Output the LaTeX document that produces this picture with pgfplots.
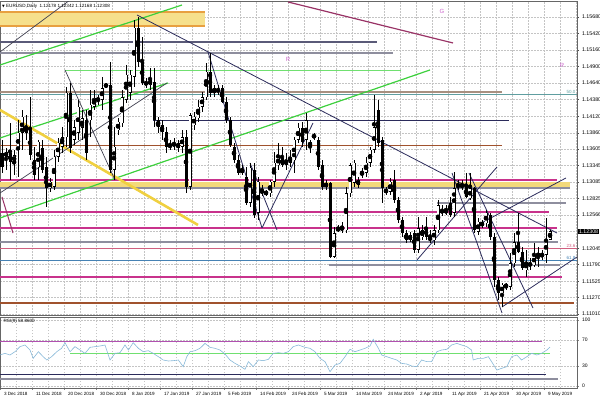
\documentclass[border=0pt]{standalone}
\usepackage{fontspec}
\setmainfont{Liberation Sans}
\newfontfamily\dejavu{DejaVu Sans}
\usepackage{pgfplots}
\usepackage{pgfplotstable}
\pgfplotsset{compat=1.18}
\definecolor{grd}{HTML}{C4C4C4}
\definecolor{navyl}{HTML}{2B2B5B}
\definecolor{dkl}{HTML}{404050}
\definecolor{grn}{HTML}{3CD03C}
\definecolor{lgrn}{HTML}{70E070}
\definecolor{gold}{HTML}{F0D040}
\definecolor{mag}{HTML}{C8328C}
\definecolor{purp}{HTML}{993366}
\definecolor{gry}{HTML}{8E8E9E}
\definecolor{slate}{HTML}{5A5A78}
\definecolor{sienna}{HTML}{A0522D}
\definecolor{tan}{HTML}{A89080}
\definecolor{band}{HTML}{F6E08C}
\definecolor{band2}{HTML}{F3D97A}
\definecolor{orng}{HTML}{E8A040}
\definecolor{teal}{HTML}{5F9EA0}
\definecolor{steel}{HTML}{4682B4}
\definecolor{pinkf}{HTML}{D06080}
\definecolor{viol}{HTML}{CC66CC}
\definecolor{rsiblue}{HTML}{87B8D8}
\definecolor{rsipurp}{HTML}{B050B0}

\pgfplotstableread{
i o h l c
0 1.1354 1.1375 1.1323 1.1332
1 1.1348 1.1362 1.1328 1.1356
2 1.1354 1.1401 1.1312 1.1340
3 1.1340 1.1359 1.1320 1.1351
4 1.1359 1.1406 1.1317 1.1386
5 1.1386 1.1422 1.1359 1.1411
6 1.1386 1.1414 1.1375 1.1395
7 1.1390 1.1442 1.1343 1.1351
8 1.1343 1.1364 1.1312 1.1320
9 1.1332 1.1375 1.1312 1.1372
10 1.1362 1.1375 1.1323 1.1328
11 1.1332 1.1348 1.1269 1.1299
12 1.1299 1.1315 1.1293 1.1309
13 1.1301 1.1359 1.1296 1.1348
14 1.1348 1.1378 1.1340 1.1370
15 1.1364 1.1395 1.1354 1.1379
16 1.1379 1.1458 1.1364 1.1449
17 1.1449 1.1464 1.1354 1.1362
18 1.1375 1.1406 1.1367 1.1395
19 1.1386 1.1438 1.1375 1.1427
20 1.1394 1.1422 1.1375 1.1409
21 1.1406 1.1422 1.1343 1.1354
22 1.1406 1.1453 1.1379 1.1430
23 1.1427 1.1453 1.1422 1.1441
24 1.1436 1.1445 1.1430 1.1441
25 1.1438 1.1474 1.1422 1.1456
26 1.1461 1.1464 1.1456 1.1460
27 1.1461 1.1497 1.1323 1.1328
28 1.1328 1.1395 1.1312 1.1364
29 1.1390 1.1409 1.1383 1.1403
30 1.1401 1.1453 1.1395 1.1442
31 1.1438 1.1493 1.1433 1.1477
32 1.1449 1.1485 1.1438 1.1477
33 1.1474 1.1563 1.1458 1.1551
34 1.1551 1.1568 1.1489 1.1497
35 1.1497 1.1537 1.1461 1.1464
36 1.1461 1.1472 1.1456 1.1466
37 1.1461 1.1488 1.1453 1.1469
38 1.1466 1.1488 1.1395 1.1406
39 1.1406 1.1411 1.1386 1.1395
40 1.1398 1.1406 1.1375 1.1387
41 1.1387 1.1395 1.1354 1.1364
42 1.1364 1.1375 1.1359 1.1367
43 1.1365 1.1378 1.1359 1.1370
44 1.1370 1.1375 1.1356 1.1362
45 1.1364 1.1390 1.1354 1.1379
46 1.1379 1.1390 1.1291 1.1301
47 1.1301 1.1417 1.1296 1.1414
48 1.1398 1.1419 1.1390 1.1411
49 1.1409 1.1438 1.1403 1.1427
50 1.1427 1.1450 1.1419 1.1442
51 1.1442 1.1496 1.1438 1.1482
52 1.1482 1.1511 1.1442 1.1449
53 1.1449 1.1461 1.1442 1.1456
54 1.1450 1.1461 1.1445 1.1455
55 1.1456 1.1461 1.1433 1.1434
56 1.1434 1.1442 1.1401 1.1406
57 1.1406 1.1411 1.1364 1.1367
58 1.1364 1.1370 1.1339 1.1343
59 1.1343 1.1351 1.1320 1.1323
60 1.1323 1.1335 1.1320 1.1329
61 1.1317 1.1332 1.1272 1.1276
62 1.1276 1.1339 1.1269 1.1331
63 1.1328 1.1339 1.1252 1.1257
64 1.1260 1.1317 1.1249 1.1309
65 1.1296 1.1304 1.1287 1.1291
66 1.1293 1.1296 1.1287 1.1290
67 1.1291 1.1312 1.1285 1.1309
68 1.1309 1.1356 1.1301 1.1339
69 1.1335 1.1370 1.1328 1.1348
70 1.1346 1.1364 1.1332 1.1335
71 1.1343 1.1354 1.1328 1.1335
72 1.1339 1.1359 1.1332 1.1348
73 1.1343 1.1379 1.1323 1.1375
74 1.1375 1.1401 1.1370 1.1394
75 1.1394 1.1403 1.1364 1.1372
76 1.1375 1.1417 1.1359 1.1406
77 1.1372 1.1375 1.1354 1.1364
78 1.1383 1.1386 1.1375 1.1378
79 1.1375 1.1379 1.1328 1.1332
80 1.1335 1.1343 1.1296 1.1301
81 1.1301 1.1312 1.1296 1.1307
82 1.1307 1.1309 1.1189 1.1191
83 1.1191 1.1238 1.1189 1.1228
84 1.1233 1.1241 1.1230 1.1236
85 1.1233 1.1246 1.1228 1.1238
86 1.1233 1.1301 1.1228 1.1291
87 1.1291 1.1339 1.1285 1.1335
88 1.1307 1.1343 1.1301 1.1339
89 1.1304 1.1317 1.1299 1.1312
90 1.1320 1.1331 1.1315 1.1324
91 1.1323 1.1348 1.1317 1.1339
92 1.1339 1.1364 1.1332 1.1359
93 1.1359 1.1445 1.1354 1.1395
94 1.1422 1.1438 1.1364 1.1370
95 1.1375 1.1379 1.1276 1.1299
96 1.1293 1.1301 1.1288 1.1296
97 1.1293 1.1315 1.1288 1.1309
98 1.1312 1.1328 1.1276 1.1280
99 1.1280 1.1285 1.1244 1.1249
100 1.1249 1.1254 1.1222 1.1228
101 1.1228 1.1233 1.1213 1.1217
102 1.1217 1.1230 1.1214 1.1225
103 1.1228 1.1233 1.1197 1.1202
104 1.1202 1.1254 1.1197 1.1236
105 1.1222 1.1241 1.1217 1.1233
106 1.1236 1.1254 1.1217 1.1222
107 1.1222 1.1233 1.1213 1.1217
108 1.1217 1.1241 1.1210 1.1233
109 1.1233 1.1280 1.1228 1.1272
110 1.1260 1.1272 1.1255 1.1265
111 1.1260 1.1272 1.1257 1.1265
112 1.1276 1.1285 1.1254 1.1257
113 1.1260 1.1324 1.1254 1.1299
114 1.1304 1.1312 1.1296 1.1301
115 1.1304 1.1312 1.1296 1.1301
116 1.1301 1.1323 1.1283 1.1285
117 1.1283 1.1323 1.1280 1.1299
118 1.1299 1.1301 1.1228 1.1233
119 1.1230 1.1252 1.1225 1.1246
120 1.1244 1.1249 1.1236 1.1241
121 1.1244 1.1265 1.1238 1.1260
122 1.1257 1.1260 1.1217 1.1222
123 1.1222 1.1228 1.1144 1.1155
124 1.1155 1.1159 1.1123 1.1134
125 1.1134 1.1150 1.1112 1.1147
126 1.1144 1.1150 1.1139 1.1147
127 1.1144 1.1197 1.1139 1.1181
128 1.1181 1.1228 1.1175 1.1214
129 1.1214 1.1260 1.1197 1.1199
130 1.1199 1.1206 1.1170 1.1173
131 1.1170 1.1202 1.1159 1.1183
132 1.1177 1.1189 1.1170 1.1181
133 1.1178 1.1213 1.1175 1.1194
134 1.1191 1.1206 1.1175 1.1197
135 1.1192 1.1202 1.1186 1.1195
136 1.1194 1.1252 1.1181 1.1218
137 1.1218 1.1234 1.1217 1.1231
}\candles

\begin{document}
\begin{tikzpicture}
\useasboundingbox (0pt,0pt) rectangle (600pt,-400pt);
\begin{axis}[
  at={(0pt,-1pt)}, anchor=north west,
  scale only axis, width=577pt, height=314.5pt,
  xmin=-0.5, xmax=143.75, ymin=1.10987, ymax=1.15931,
  axis line style={draw=black!60, line width=0.5pt},
  xtick={-0.5,3.5,...,143.5}, xticklabels={}, xtick style={draw=none},
  ytick={1.15680,1.15420,1.15160,1.14900,1.14640,1.14380,1.14120,1.13860,1.13605,1.13345,1.13085,1.12825,1.12566,1.12305,1.12045,1.11790,1.11525,1.11270,1.11010},
  yticklabels={1.15680,1.15420,1.15160,1.14900,1.14640,1.14380,1.14120,1.13860,1.13605,1.13345,1.13085,1.12825,1.12566,{},1.12045,1.11790,1.11525,1.11270,1.11010},
  yticklabel pos=right, ytick pos=right,
  tick align=outside, major tick length=2pt,
  ytick style={draw=black!70, line width=0.4pt},
  yticklabel style={font=\fontsize{5.3}{6}\selectfont, anchor=west, xshift=-0.5pt},
  grid=major, major grid style={draw=grd, dash pattern=on 1.5pt off 1.5pt, line width=0.4pt},
  clip=true,
]
% bands
\addplot[fill=band, draw=none, forget plot] coordinates {(-0.5,1.15758) (50.75,1.15758) (50.75,1.15538) (-0.5,1.15538)} -- cycle;
\addplot[orng, line width=1.5pt] coordinates {(-0.5,1.15758) (50.75,1.15758)};
\addplot[orng, line width=1.5pt] coordinates {(-0.5,1.15538) (50.75,1.15538)};
\addplot[fill=band2, draw=none, forget plot] coordinates {(-0.5,1.13086) (142,1.13086) (142,1.12992) (-0.5,1.12992)} -- cycle;
% horizontal levels
\addplot[slate, line width=1.1pt] coordinates {(-0.5,1.15287) (93.75,1.15287)};
\addplot[gry, line width=2pt] coordinates {(-0.5,1.15114) (97.75,1.15114)};
\addplot[lgrn, line width=1.3pt] coordinates {(15.75,1.14836) (99.75,1.14836)};
\addplot[tan, line width=2pt] coordinates {(-0.5,1.14501) (125,1.14501)};
\addplot[teal, line width=0.6pt] coordinates {(-0.5,1.14469) (143.75,1.14469)};
\addplot[navyl, line width=0.9pt] coordinates {(37.75,1.14061) (126.75,1.14061)};
\addplot[sienna, line width=1pt] coordinates {(-0.5,1.13652) (125,1.13652)};
\addplot[mag, line width=1.3pt] coordinates {(-0.5,1.13117) (138.75,1.13117)};
\addplot[gry, line width=2pt] coordinates {(-0.5,1.12992) (142,1.12992)};
\addplot[gry, line width=2pt] coordinates {(108.75,1.12756) (141,1.12756)};
\addplot[mag, line width=1.3pt] coordinates {(-0.5,1.12614) (136.75,1.12614)};
\addplot[mag, line width=1.3pt] coordinates {(-0.5,1.12363) (138.75,1.12363)};
\addplot[gry, line width=2pt] coordinates {(-0.5,1.12143) (139,1.12143)};
\addplot[pinkf, line width=0.6pt] coordinates {(-0.5,1.12049) (143.75,1.12049)};
\addplot[steel, line width=0.6pt] coordinates {(-0.5,1.11860) (143.75,1.11860)};
\addplot[gry, line width=1.6pt] coordinates {(81.75,1.11781) (139.5,1.11781)};
\addplot[mag, line width=1.3pt] coordinates {(-0.5,1.11593) (140,1.11593)};
\addplot[sienna, line width=1.3pt] coordinates {(-0.5,1.11184) (143,1.11184)};
% diagonal trend lines
\addplot[dkl, line width=0.7pt] coordinates {(-0.5,1.15130) (17,1.15947)};
\addplot[grn, line width=1.2pt] coordinates {(-0.5,1.14925) (45,1.15868)};
\addplot[grn, line width=1.2pt] coordinates {(-0.5,1.13778) (41.5,1.14642)};
\addplot[grn, line width=1.2pt] coordinates {(-0.5,1.12520) (107,1.14847)};
\addplot[gold, line width=2.6pt] coordinates {(-0.5,1.14218) (49,1.12410)};
\addplot[dkl, line width=0.7pt] coordinates {(-0.5,1.12913) (41.25,1.14642)};
\addplot[dkl, line width=0.7pt] coordinates {(15.75,1.14847) (28.25,1.13117)};
\addplot[navyl, line width=0.8pt] coordinates {(33.75,1.15711) (138.75,1.12284)};
\addplot[navyl, line width=0.8pt] coordinates {(51.5,1.15130) (65,1.12363)};
\addplot[navyl, line width=0.8pt] coordinates {(62,1.13385) (68.75,1.12331)};
\addplot[navyl, line width=0.8pt] coordinates {(65,1.12363) (77.75,1.14013)};
\addplot[navyl, line width=0.8pt] coordinates {(103.75,1.11860) (123.75,1.13322)};
\addplot[navyl, line width=0.8pt] coordinates {(112.5,1.13227) (125,1.11027)};
\addplot[navyl, line width=0.8pt] coordinates {(116.75,1.13227) (132.75,1.11105)};
\addplot[navyl, line width=0.8pt] coordinates {(117.5,1.12363) (141,1.13149)};
\addplot[navyl, line width=0.8pt] coordinates {(125,1.11121) (143.75,1.11907)};
\addplot[purp, line width=1.2pt] coordinates {(71.5,1.15916) (112.75,1.15271)};
\addplot[purp, line width=1pt] coordinates {(0,1.12850) (2.75,1.12284)};
% candles: wicks
\addplot[only marks, mark=none, forget plot,
  error bars/.cd, y dir=both, y explicit, error mark=none,
  error bar style={draw=black, line width=0.7pt}]
  table[x=i, y expr={(\thisrow{h}+\thisrow{l})/2}, y error expr={(\thisrow{h}-\thisrow{l})/2}] {\candles};
% bodies
\addplot[only marks, mark=none, forget plot,
  error bars/.cd, y dir=both, y explicit, error mark=none,
  error bar style={draw=black, line width=3pt}]
  table[x=i, y expr={(\thisrow{o}+\thisrow{c})/2}, y error expr={max(abs(\thisrow{o}-\thisrow{c})/2,0.00005)}] {\candles};
\addplot[only marks, mark=none, forget plot,
  error bars/.cd, y dir=both, y explicit, error mark=none,
  error bar style={draw=white, line width=1.9pt}]
  table[x=i, y expr={(\thisrow{o}+\thisrow{c})/2}, y error expr={max((\thisrow{c}-\thisrow{o})/2-0.00008,0)}] {\candles};
% labels in chart
\node[font=\fontsize{4.5}{5}\selectfont, text=teal, anchor=south east, inner sep=0.5pt] at (axis cs:143.5,1.14469) {50.0};
\node[font=\fontsize{4.5}{5}\selectfont, text=pinkf, anchor=south east, inner sep=0.5pt] at (axis cs:143.5,1.12049) {23.6};
\node[font=\fontsize{4.5}{5}\selectfont, text=steel, anchor=south east, inner sep=0.5pt] at (axis cs:143.5,1.11860) {61.8};
\node[font=\fontsize{6}{7}\selectfont, text=viol] at (axis cs:110,1.15774) {G};
\node[font=\fontsize{6}{7}\selectfont, text=viol] at (axis cs:71.5,1.15020) {R};
\node[font=\fontsize{6}{7}\selectfont, text=viol] at (axis cs:140,1.14925) {R};
\coordinate (cp) at (axis cs:143.75,1.12308);
\end{axis}
\node[fill=black, text=white, anchor=west, inner sep=0.8pt, font=\fontsize{5.3}{6}\selectfont] at ([xshift=1pt]cp) {1.12308};
\node[anchor=west, inner sep=0pt, font=\fontsize{4.6}{5}\selectfont] at (2pt,-6pt) {{\dejavu\fontsize{3.5}{4}\selectfont ▼}\ EURUSD,Daily\ \ 1.12178 1.12342 1.12168 1.12308};

\begin{axis}[
  at={(0pt,-317pt)}, anchor=north west,
  scale only axis, width=577pt, height=71pt,
  xmin=-0.5, xmax=143.75, ymin=-3, ymax=104.5,
  axis line style={draw=black!60, line width=0.5pt},
  xtick={-0.5,7.5,...,135.5},
  xticklabels={3 Dec 2018,11 Dec 2018,20 Dec 2018,30 Dec 2018,8 Jan 2019,17 Jan 2019,27 Jan 2019,5 Feb 2019,14 Feb 2019,24 Feb 2019,5 Mar 2019,14 Mar 2019,24 Mar 2019,2 Apr 2019,11 Apr 2019,21 Apr 2019,30 Apr 2019,9 May 2019},
  minor xtick={3.5,11.5,...,139.5},
  xticklabel style={font=\fontsize{4.6}{5}\selectfont, anchor=north west, xshift=0.5pt, yshift=0.5pt},
  xtick pos=bottom, tick align=outside, major tick length=1.5pt, minor tick length=0pt,
  ytick={0,30,70,100}, yticklabels={0,30,70,100},
  yticklabel pos=right, ytick pos=right,
  yticklabel style={font=\fontsize{5}{6}\selectfont, anchor=west},
  grid=both, major grid style={draw=grd, dash pattern=on 1.5pt off 1.5pt, line width=0.4pt},
  minor grid style={draw=grd, dash pattern=on 1.5pt off 1.5pt, line width=0.4pt},
  clip=true,
]
\addplot[rsipurp, line width=1.4pt] coordinates {(-0.5,67.1) (135,67.1)};
\addplot[lgrn, line width=1.5pt] coordinates {(17,49.5) (137,49.5)};
\addplot[navyl, line width=0.9pt] coordinates {(-0.5,17.7) (136,17.7)};
\addplot[gry, line width=1.8pt] coordinates {(-0.5,10.6) (139,10.6)};
\addplot[rsiblue, line width=0.6pt] coordinates {
(-0.5,47.0)(0.75,49.5)(2,47.0)(3.25,52.0)(4.5,59.6)(5.75,62.1)(7,54.5)(7.8,41.9)(9.1,52.0)(10.3,44.4)(11.2,39.4)(12.4,44.4)(13.7,52.0)(14.9,57.1)(15.75,65.6)(17,52.0)(18.25,59.6)(19.5,54.5)(20.75,49.5)(22,58.6)(23.25,59.6)(24.5,60.6)(25.75,62.1)(27,39.4)(28.25,49.5)(29.5,50.5)(30.75,62.1)(31.6,54.5)(32.8,65.6)(34.1,57.1)(35.3,52.0)(36.6,53.5)(37.8,49.5)(39.1,44.4)(40.3,39.4)(41.6,37.9)(42.8,38.4)(44.1,39.4)(45.3,29.3)(46.2,44.4)(47,52.0)(48.25,53.5)(49.5,57.1)(50.75,64.6)(52,58.6)(53.25,57.1)(54.5,54.5)(55.75,48.5)(57,39.4)(58.25,34.3)(59.5,30.3)(60.75,25.3)(61.6,36.9)(62.8,29.3)(64.1,39.4)(65.3,38.4)(66.6,40.4)(67.8,49.5)(69.1,50.5)(70.3,49.5)(71.6,52.0)(72.8,59.6)(74.1,62.1)(75.75,58.6)(77,57.1)(78.25,52.0)(79.5,41.9)(80.75,36.9)(82,21.7)(83.25,31.8)(84.5,34.3)(85.75,44.4)(87,55.6)(88.25,52.0)(89.5,54.5)(90.75,57.1)(92,60.6)(92.8,70.7)(94.1,57.1)(94.9,47.0)(96.2,44.4)(97.4,41.9)(98.7,39.4)(99.9,34.3)(101.2,33.3)(102.4,30.3)(103.7,29.3)(104.9,39.4)(106.2,36.9)(107.4,36.9)(108.7,52.0)(109.9,54.5)(111.2,55.6)(112.4,62.1)(113.7,64.6)(114.9,62.1)(116.2,59.6)(117.4,54.5)(117.8,39.4)(119.1,41.9)(120.3,41.9)(121.6,44.4)(122.4,36.9)(123.7,24.2)(124.9,26.8)(126.2,29.3)(127.4,44.4)(128.7,47.0)(129.9,39.4)(131.2,44.4)(132.4,49.5)(133.7,47.0)(134.9,49.5)(136.2,54.5)(137,58.9)};
\node[font=\fontsize{4.6}{5}\selectfont, anchor=north west, inner sep=0.5pt] at (rel axis cs:0.005,0.98) {RSI(9) 58.8600};
\end{axis}
\end{tikzpicture}
\end{document}
